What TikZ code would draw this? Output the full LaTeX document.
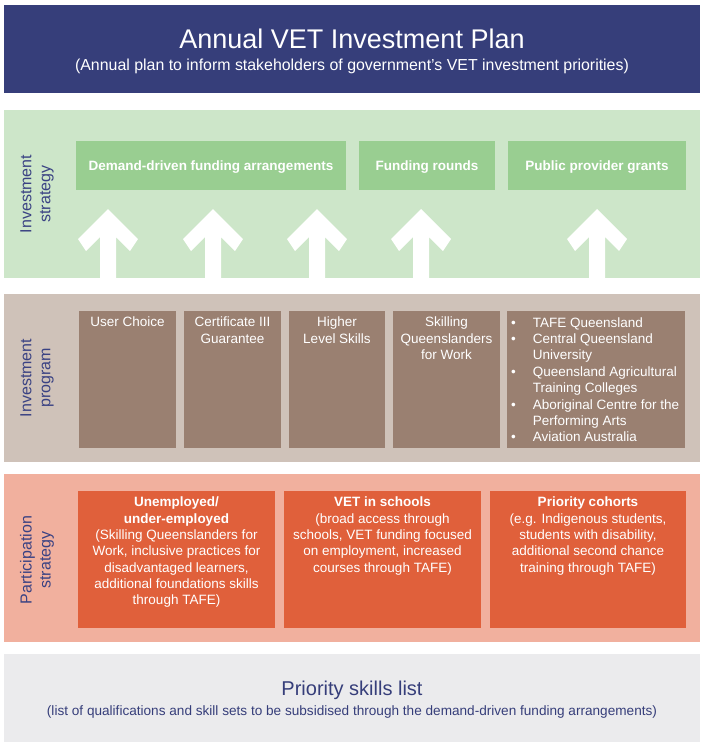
\documentclass[tikz,border=0pt]{standalone}
\usepackage{fontspec}
\setmainfont{Liberation Sans}
\definecolor{navy}{HTML}{363E7A}
\definecolor{lblcol}{HTML}{3A4283}
\definecolor{gband}{HTML}{CDE6C9}
\definecolor{gbox}{HTML}{99CE91}
\definecolor{bband}{HTML}{CFC2B9}
\definecolor{bbox}{HTML}{9A8071}
\definecolor{oband}{HTML}{F1B09E}
\definecolor{obox}{HTML}{E0603B}
\definecolor{grayband}{HTML}{EBEBED}
\tikzset{
  band/.style={fill=#1, draw=none, inner sep=0pt, minimum width=696pt, minimum height=168pt},
  cell/.style={fill=#1, draw=none, inner sep=0pt},
  boxtext/.style={text=white, inner sep=0pt, align=center, font=\fontsize{13.5}{16.3}\selectfont},
  gtext/.style={text=white, inner sep=0pt, font=\fontsize{13.5}{16}\selectfont\bfseries},
  sidelabel/.style={text=lblcol, inner sep=0pt, align=center, rotate=90, font=\fontsize{16}{19}\selectfont},
  uparrow/.pic={\fill[white] (0,-69) -- (30,-39) -- (22,-27) -- (8,-41) -- (8,0) -- (-8,0) -- (-8,-41) -- (-22,-27) -- (-30,-39) -- cycle;}
}
\begin{document}
\begin{tikzpicture}[x=1pt,y=-1pt]
\useasboundingbox (0,0) rectangle (706,750);
\fill[white] (0,0) rectangle (706,750);

% Title band
\node[band=navy, minimum height=88pt] (title) at (352,49) {};
\node[anchor=base, text=white, inner sep=0pt, font=\fontsize{27}{30}\selectfont] (titletext) at (352,48) {Annual VET Investment Plan};
\node[anchor=base, text=white, inner sep=0pt, font=\fontsize{15.9}{18}\selectfont] (titlesub) at (352,70.5) {(Annual plan to inform stakeholders of government’s VET investment priorities)};

% Investment strategy band
\node[band=gband] (strategy) at (352,194) {};
\node[sidelabel] (lstrategy) at (37,194) {Investment\\strategy};
\node[cell=gbox, minimum width=270pt, minimum height=49pt] (ddf) at (211,165.5) {};
\node[cell=gbox, minimum width=136pt, minimum height=49pt] (fr) at (427,165.5) {};
\node[cell=gbox, minimum width=178pt, minimum height=49pt] (ppg) at (597,165.5) {};
\node[gtext, anchor=base] (ddft) at (211,170.3) {Demand-driven funding arrangements};
\node[gtext, anchor=base] (frt) at (427,170.3) {Funding rounds};
\node[gtext, anchor=base] (ppgt) at (597,170.3) {Public provider grants};
\coordinate (a1) at (108,278);
\coordinate (a2) at (213,278);
\coordinate (a3) at (317,278);
\coordinate (a4) at (421,278);
\coordinate (a5) at (597,278);
\foreach \c in {a1,a2,a3,a4,a5} { \pic at (\c) {uparrow}; }

% Investment program band
\node[band=bband] (program) at (352,378) {};
\node[sidelabel] (lprogram) at (37,378) {Investment\\program};
\node[cell=bbox, minimum width=97pt, minimum height=137pt] (uc) at (127.5,379.5) {};
\node[cell=bbox, minimum width=97pt, minimum height=137pt] (c3) at (232.5,379.5) {};
\node[cell=bbox, minimum width=96pt, minimum height=137pt] (hls) at (337,379.5) {};
\node[cell=bbox, minimum width=107pt, minimum height=137pt] (sqw) at (446.5,379.5) {};
\node[cell=bbox, minimum width=178pt, minimum height=137pt] (prov) at (596,379.5) {};
\node[boxtext, anchor=north] (uct) at (127.5,317) {User Choice};
\node[boxtext, anchor=north] (c3t) at (232.5,317) {Certificate III\\Guarantee};
\node[boxtext, anchor=north] (hlst) at (337,317) {Higher\\Level Skills};
\node[boxtext, anchor=north] (sqwt) at (446.5,317) {Skilling\\Queenslanders\\for Work};
\node[text=white, inner sep=0pt, anchor=north west, font=\fontsize{13.5}{16.4}\selectfont] (provt) at (511,315.5) {%
\begin{tabular}{@{}l@{\hspace{17pt}}l@{}}
•&TAFE Queensland\\
•&Central Queensland\\
 &University\\
•&Queensland Agricultural\\
 &Training Colleges\\
•&Aboriginal Centre for the\\
 &Performing Arts\\
•&Aviation Australia
\end{tabular}};

% Participation strategy band
\node[band=oband] (participation) at (352,558) {};
\node[sidelabel] (lpart) at (37,560) {Participation\\strategy};
\node[cell=obox, minimum width=197pt, minimum height=137pt] (unemp) at (176.5,559.5) {};
\node[cell=obox, minimum width=197pt, minimum height=137pt] (vis) at (382.5,559.5) {};
\node[cell=obox, minimum width=196pt, minimum height=137pt] (pc) at (588,559.5) {};
\node[boxtext, anchor=north] (unempt) at (176.5,497) {\textbf{Unemployed/}\\\textbf{under-employed}\\(Skilling Queenslanders for\\Work, inclusive practices for\\disadvantaged learners,\\additional foundations skills\\through TAFE)};
\node[boxtext, anchor=north] (vist) at (382.5,497) {\textbf{VET in schools}\\(broad access through\\schools, VET funding focused\\on employment, increased\\courses through TAFE)};
\node[boxtext, anchor=north] (pct) at (588,497) {\textbf{Priority cohorts}\\(e.g. Indigenous students,\\students with disability,\\additional second chance\\training through TAFE)};

% Priority skills list band
\node[band=grayband, minimum height=88pt] (psl) at (352,698) {};
\node[anchor=base, text=navy, inner sep=0pt, font=\fontsize{20}{23}\selectfont] (pslt) at (352,695) {Priority skills list};
\node[anchor=base, text=navy, inner sep=0pt, font=\fontsize{13.6}{16}\selectfont] (psls) at (352,715) {(list of qualifications and skill sets to be subsidised through the demand-driven funding arrangements)};
\end{tikzpicture}
\end{document}
